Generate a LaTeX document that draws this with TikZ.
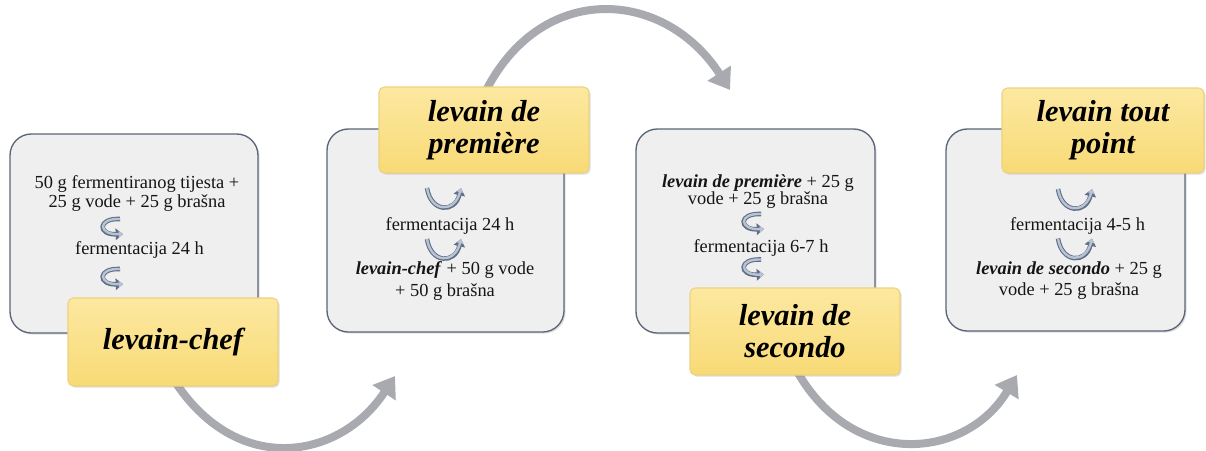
\documentclass[tikz,border=0pt]{standalone}
\usepackage{fontspec}
\setmainfont{Liberation Serif}
\usetikzlibrary{arrows.meta,shadows,backgrounds}
\definecolor{boxfill}{HTML}{EFEFEF}
\definecolor{boxline}{HTML}{5A6578}
\definecolor{yelA}{HTML}{FCE8A0}
\definecolor{yelB}{HTML}{F8DA76}
\definecolor{yelline}{HTML}{EDD27E}
\definecolor{arrgray}{HTML}{A8AAAF}
\definecolor{icondark}{HTML}{5F6F88}
\definecolor{iconlight}{HTML}{B9C3D2}
\definecolor{txt}{HTML}{151515}
\tikzset{
  graybox/.style={draw=boxline, line width=1pt, fill=boxfill, rounded corners=16pt,
    drop shadow={opacity=0.25, shadow xshift=1.2pt, shadow yshift=-1.2pt}},
  yelbox/.style={draw=yelline, line width=0.8pt, top color=yelA, bottom color=yelB,
    rounded corners=4pt, align=center, text=black,
    font=\fontsize{22.8}{24}\selectfont\bfseries\itshape,
    drop shadow={opacity=0.25, shadow xshift=1.2pt, shadow yshift=-1.2pt}},
  bigarr/.style={draw=arrgray, line width=6pt, -{Triangle[length=15pt,width=20pt]}},
  bodytxt/.style={align=center, text=txt, inner sep=0pt},
  icdark/.style={draw=icondark, line width=3.4pt, -{Triangle[length=5.5pt,width=8.5pt]}},
  iclight/.style={draw=iconlight, line width=1.8pt, -{Triangle[length=3.2pt,width=4.8pt]}},
  curl/.pic={
    \draw[icdark] (8,-8) .. controls (-15,-9) and (-14,8) .. (11,7);
    \draw[iclight] (8,-8) .. controls (-15,-9) and (-14,8) .. (11,7);
  },
  ucurve/.pic={
    \draw[icdark] (-17,-9) .. controls (-13,16) and (11,16) .. (17,-9);
    \draw[iclight] (-17,-9) .. controls (-13,16) and (11,16) .. (17,-9);
  }
}
\newcommand{\bt}[1]{\fontsize{13.8}{#1}\selectfont}
\begin{document}
\begin{tikzpicture}[x=0.75pt,y=-0.75pt]
\useasboundingbox (0,0) rectangle (1206,450);

% gray boxes
\node[graybox, minimum width=186pt, minimum height=149.25pt] (g1) at (134,233.5) {};
\node[graybox, minimum width=177.75pt, minimum height=152.25pt] (g2) at (445.5,230.5) {};
\node[graybox, minimum width=179.25pt, minimum height=153pt] (g3) at (755.5,231) {};
\node[graybox, minimum width=179.25pt, minimum height=151.5pt] (g4) at (1065.5,230) {};

% yellow label boxes
\node[yelbox, minimum width=157.5pt, minimum height=66pt] (y1) at (173,342) {levain-chef};
\node[yelbox, minimum width=157.5pt, minimum height=64.5pt] (y2) at (484,130) {levain de\\premi\`ere};
\node[yelbox, minimum width=157.5pt, minimum height=65.25pt] (y3) at (795,331.5) {levain de\\secondo};
\node[yelbox, minimum width=151.5pt, minimum height=63.75pt] (y4) at (1103,130.5) {levain tout\\point};

% big curved arrows (behind the boxes)
\coordinate (e1) at (395,376);
\coordinate (e2) at (730,90);
\coordinate (e3) at (1017,375);
\begin{scope}[on background layer]
\draw[bigarr] ([yshift=6pt]y1.south) .. controls (236,478) and (340,460) .. (e1);
\draw[bigarr] ([yshift=-6pt]y2.north) .. controls (540,-20) and (664,-12) .. (e2);
\draw[bigarr] ([yshift=6pt]y3.south) .. controls (850,470) and (965,461) .. (e3);
\end{scope}

% box 1 texts
\node[bodytxt, font=\bt{14.25pt}] (t1a) at (137,194) {50 g fermentiranog tijesta +\\25 g vode + 25 g brašna};
\pic at (112,227) {curl};
\node[bodytxt, font=\bt{14pt}] (t1b) at (139.5,250) {fermentacija 24 h};
\pic at (112,277) {curl};

% box 2 texts
\pic at (444,197) {ucurve};
\node[bodytxt, font=\bt{14pt}] (t2a) at (450,226) {fermentacija 24 h};
\pic at (444,248) {ucurve};
\node[bodytxt, font=\bt{16pt}] (t2b) at (445,281) {\textbf{\textit{levain-chef}} + 50 g vode\\+ 50 g brašna};

% box 3 texts
\node[bodytxt, font=\bt{12.75pt}] (t3a) at (758,191.5) {\textbf{\textit{levain de premi\`ere}} + 25 g\\vode + 25 g brašna};
\pic at (753,222) {curl};
\node[bodytxt, font=\bt{14pt}] (t3b) at (761,248) {fermentacija 6-7 h};
\pic at (753,267.5) {curl};

% box 4 texts
\pic at (1075,198) {ucurve};
\node[bodytxt, font=\bt{14pt}] (t4a) at (1077.5,226) {fermentacija 4-5 h};
\pic at (1075,247.5) {ucurve};
\node[bodytxt, font=\bt{15.75pt}] (t4b) at (1069,280.5) {\textbf{\textit{levain de secondo}} + 25 g\\vode + 25 g brašna};
\end{tikzpicture}
\end{document}
